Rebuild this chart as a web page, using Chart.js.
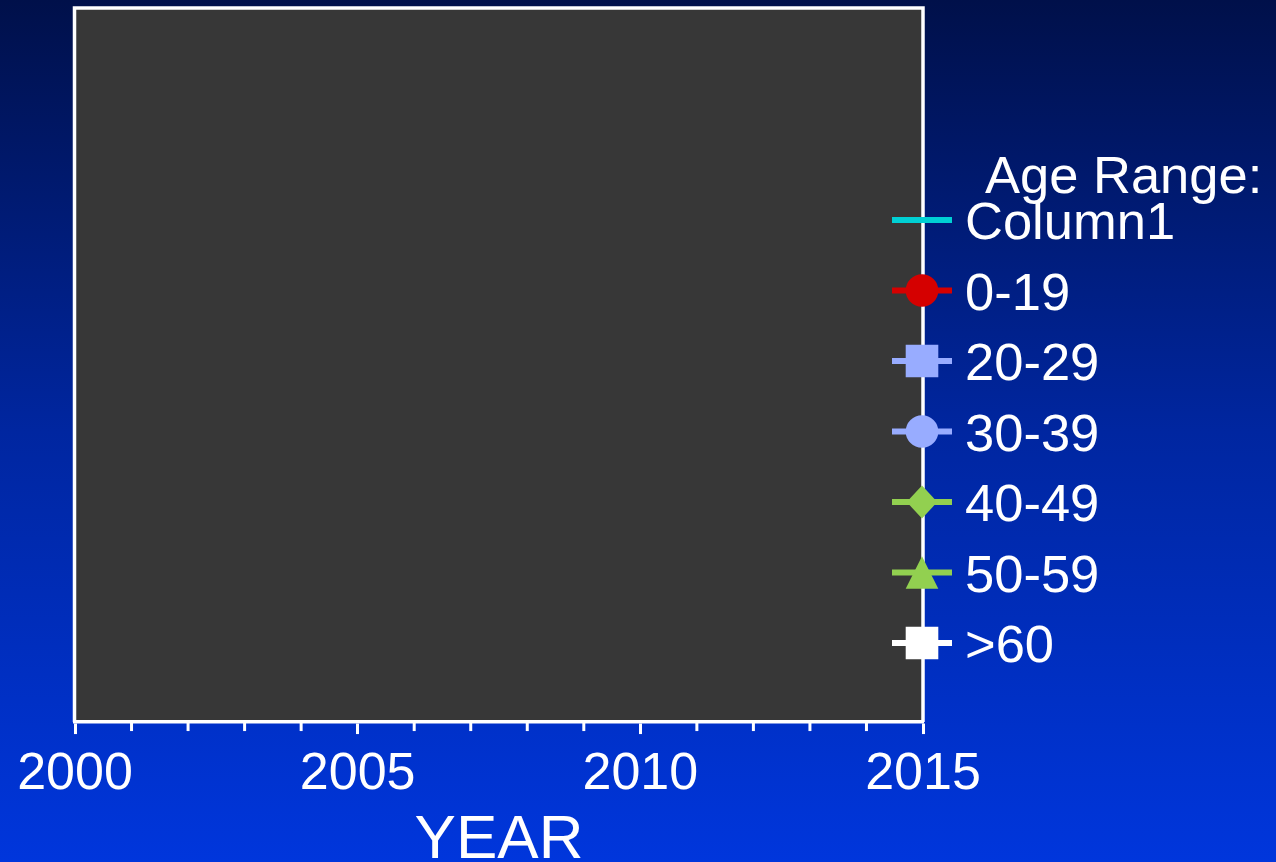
<!DOCTYPE html>
<html>
<head>
<meta charset="utf-8">
<title>Age Range by Year</title>
<script src="https://cdn.jsdelivr.net/npm/chart.js@4/dist/chart.umd.min.js"></script>
<style>
  html, body { margin: 0; padding: 0; }
  body {
    width: 1276px; height: 862px; overflow: hidden;
    background: linear-gradient(to bottom, #00104a 0%, #0026a0 50%, #0036dc 100%);
  }
  canvas { display: block; }
</style>
</head>
<body>
<canvas id="chart-age" width="1276" height="862"></canvas>
<script>
// x range and labelled ticks
var yearMin = 2000
var yearMax = 2015
var tickYears = [2000, 2005, 2010, 2015]

// series (the sheet has no points plotted yet)
var legendTitle = 'Age Range:'
var column1 = []
var age0to19 = []
var age20to29 = []
var age30to39 = []
var age40to49 = []
var age50to59 = []
var age60plus = []

var FONT = '"Liberation Sans", Arial, sans-serif'

function drawMarker(ctx, style, x, y) {
  if (!style) return
  ctx.beginPath()
  if (style === 'circle') {
    ctx.arc(x, y, 16.3, 0, Math.PI * 2)
  } else if (style === 'rect') {
    ctx.rect(x - 16.3, y - 16.3, 32.6, 32.6)
  } else if (style === 'rectRot') {
    ctx.moveTo(x, y - 16.5); ctx.lineTo(x + 15.3, y); ctx.lineTo(x, y + 16.5); ctx.lineTo(x - 15.3, y)
    ctx.closePath()
  } else if (style === 'triangle') {
    ctx.moveTo(x, y - 16.3); ctx.lineTo(x + 16.3, y + 16.3); ctx.lineTo(x - 16.3, y + 16.3)
    ctx.closePath()
  }
  ctx.fill()
}

// grey plot area, white frame and the short minor ticks
var plotFrame = {
  id: 'plotFrame',
  beforeDraw: function (chart) {
    var a = chart.chartArea, ctx = chart.ctx
    ctx.save()
    ctx.fillStyle = '#373737'
    ctx.fillRect(a.left, a.top, a.right - a.left, a.bottom - a.top)
    ctx.restore()
  },
  afterDraw: function (chart) {
    var a = chart.chartArea, ctx = chart.ctx, xs = chart.scales.x
    ctx.save()
    ctx.strokeStyle = '#ffffff'
    ctx.lineWidth = 3.5
    ctx.beginPath()
    ctx.moveTo(a.left - 0.5, a.bottom)
    ctx.lineTo(a.left - 0.5, a.top)
    ctx.lineTo(a.right, a.top)
    ctx.lineTo(a.right, a.bottom)
    ctx.stroke()
    ctx.lineWidth = 3
    for (var yr = yearMin; yr <= yearMax; yr++) {
      if (tickYears.indexOf(yr) >= 0) continue
      var px = xs.getPixelForValue(yr)
      ctx.beginPath()
      ctx.moveTo(px, a.bottom)
      ctx.lineTo(px, a.bottom + 9)
      ctx.stroke()
    }
    ctx.restore()
  }
}

// legend with line + marker, like the spreadsheet one
var ageLegend = {
  id: 'ageLegend',
  afterDraw: function (chart) {
    var ctx = chart.ctx
    ctx.save()
    ctx.font = '52.5px ' + FONT
    ctx.textBaseline = 'alphabetic'
    ctx.textAlign = 'left'
    ctx.fillStyle = '#ffffff'
    ctx.fillText(legendTitle, 985, 193)
    chart.data.datasets.forEach(function (ds, i) {
      var y = 220 + i * 70.5
      ctx.strokeStyle = ds.borderColor
      ctx.lineWidth = 6
      ctx.beginPath()
      ctx.moveTo(892, y)
      ctx.lineTo(952, y)
      ctx.stroke()
      ctx.fillStyle = ds.backgroundColor
      drawMarker(ctx, ds.pointStyle, 922, y)
      ctx.fillStyle = '#ffffff'
      ctx.fillText(ds.label, 965, y + 19)
    })
    ctx.restore()
  }
}

new Chart(document.getElementById('chart-age'), {
  type: 'line',
  data: {
    datasets: [
      { label: 'Column1', data: column1, borderColor: '#00d0d4', backgroundColor: '#00d0d4', pointStyle: false },
      { label: '0-19', data: age0to19, borderColor: '#d50000', backgroundColor: '#d50000', pointStyle: 'circle' },
      { label: '20-29', data: age20to29, borderColor: '#98acff', backgroundColor: '#98acff', pointStyle: 'rect' },
      { label: '30-39', data: age30to39, borderColor: '#98acff', backgroundColor: '#98acff', pointStyle: 'circle' },
      { label: '40-49', data: age40to49, borderColor: '#92d050', backgroundColor: '#92d050', pointStyle: 'rectRot' },
      { label: '50-59', data: age50to59, borderColor: '#92d050', backgroundColor: '#92d050', pointStyle: 'triangle' },
      { label: '>60', data: age60plus, borderColor: '#ffffff', backgroundColor: '#ffffff', pointStyle: 'rect' }
    ]
  },
  plugins: [plotFrame, ageLegend],
  options: {
    responsive: false,
    animation: false,
    layout: { padding: { left: 75, right: 353, top: 8, bottom: 0 } },
    plugins: {
      legend: { display: false },
      tooltip: { enabled: false }
    },
    scales: {
      x: {
        type: 'linear',
        min: yearMin,
        max: yearMax,
        border: { display: true, color: '#ffffff', width: 3.5 },
        grid: {
          drawOnChartArea: false,
          drawTicks: true,
          tickLength: 12,
          tickWidth: 3,
          tickColor: function (c) {
            return c.tick && tickYears.indexOf(c.tick.value) >= 0 ? '#ffffff' : 'rgba(0,0,0,0)'
          }
        },
        ticks: {
          stepSize: 1,
          autoSkip: false,
          maxRotation: 0,
          padding: 15,
          color: '#ffffff',
          font: { family: FONT, size: 52, lineHeight: 1 },
          callback: function (v) { return tickYears.indexOf(v) >= 0 ? String(v) : '' }
        },
        title: {
          display: true,
          text: 'YEAR',
          color: '#ffffff',
          font: { family: FONT, size: 62, lineHeight: 0.62 },
          padding: { top: 5.5, bottom: 2 }
        }
      },
      y: { display: false, min: 0, max: 100 }
    }
  }
})
</script>
</body>
</html>
